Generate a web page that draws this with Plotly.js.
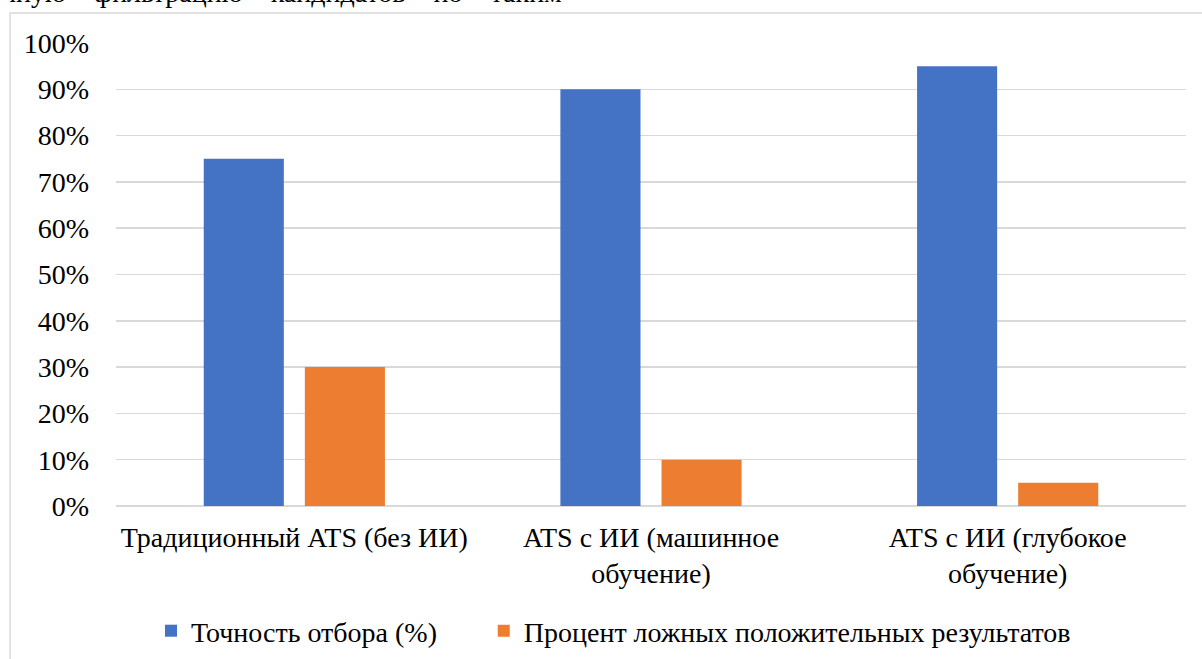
<!DOCTYPE html>
<html><head><meta charset="utf-8">
<script src="https://cdn.plot.ly/plotly-3.0.1.min.js"></script>
<style>html,body{margin:0;padding:0;background:#fff;}#chart{width:1202px;height:659px;}</style>
</head><body><div id="chart"></div>
<script>
const categories = ["Традиционный ATS (без ИИ)", "ATS с ИИ (машинное<br>обучение)", "ATS с ИИ (глубокое<br>обучение)"];
const accuracy = [0.75, 0.90, 0.95];
const falsePositive = [0.30, 0.10, 0.05];
const seriesNames = ["Точность отбора (%)", "Процент ложных положительных результатов"];
const tickVals = [0,0.1,0.2,0.3,0.4,0.5,0.6,0.7,0.8,0.9,1.0];
const tickText = ["0%","10%","20%","30%","40%","50%","60%","70%","80%","90%","100%"];
const topText = "чную&nbsp;&nbsp;&nbsp;&nbsp;фильтрацию&nbsp;&nbsp;&nbsp;&nbsp;кандидатов&nbsp;&nbsp;&nbsp;&nbsp;по&nbsp;&nbsp;&nbsp;&nbsp;таким";

const font = {family: 'Liberation Serif', size: 28, color: '#000'};

const data = [
  {type:'bar', x: categories, y: accuracy, name: seriesNames[0], marker:{color:'#4472C4'}, legend:'legend'},
  {type:'bar', x: categories, y: falsePositive, name: seriesNames[1], marker:{color:'#ED7D31'}, legend:'legend2'}
];
const legendBase = {orientation:'h', xanchor:'left', y:-0.27, yanchor:'middle', font:font, itemwidth:30, bgcolor:'rgba(0,0,0,0)'};
const layout = {
  width:1202, height:659,
  margin:{l:116, r:16, t:43, b:153, autoexpand:false},
  paper_bgcolor:'#fff', plot_bgcolor:'#fff',
  font: font,
  barmode:'group', bargap:0.433, bargroupgap:0.208,
  showlegend:true,
  legend: Object.assign({}, legendBase, {x:0.0327}),
  legend2: Object.assign({}, legendBase, {x:0.3437}),
  xaxis:{type:'category', tickfont:font, showgrid:false, showline:false, zeroline:false, ticks:'', ticklabelstandoff:12, automargin:false},
  yaxis:{range:[0,1.0], tickvals:tickVals, ticktext:tickText, tickfont:font, showgrid:true, gridcolor:'#d9d9d9', gridwidth:1.5,
         zeroline:true, zerolinecolor:'#d9d9d9', zerolinewidth:1.5, showline:false, ticks:'', ticklabelstandoff:26, fixedrange:true, automargin:false},
  shapes:[{type:'rect', xref:'paper', yref:'paper', x0:-0.099, x1:1.2, y0:-0.5, y1:1.065, line:{color:'#d9d9d9', width:1.5}, fillcolor:'rgba(0,0,0,0)', layer:'below'}],
  annotations:[{xref:'paper', yref:'paper', x:-0.108, y:1.072, xanchor:'left', yanchor:'bottom', text:topText, showarrow:false, font:{family:font.family, size:28, color:'#000'}}]
};
Plotly.newPlot('chart', data, layout, {displayModeBar:false, staticPlot:true});
</script></body></html>
